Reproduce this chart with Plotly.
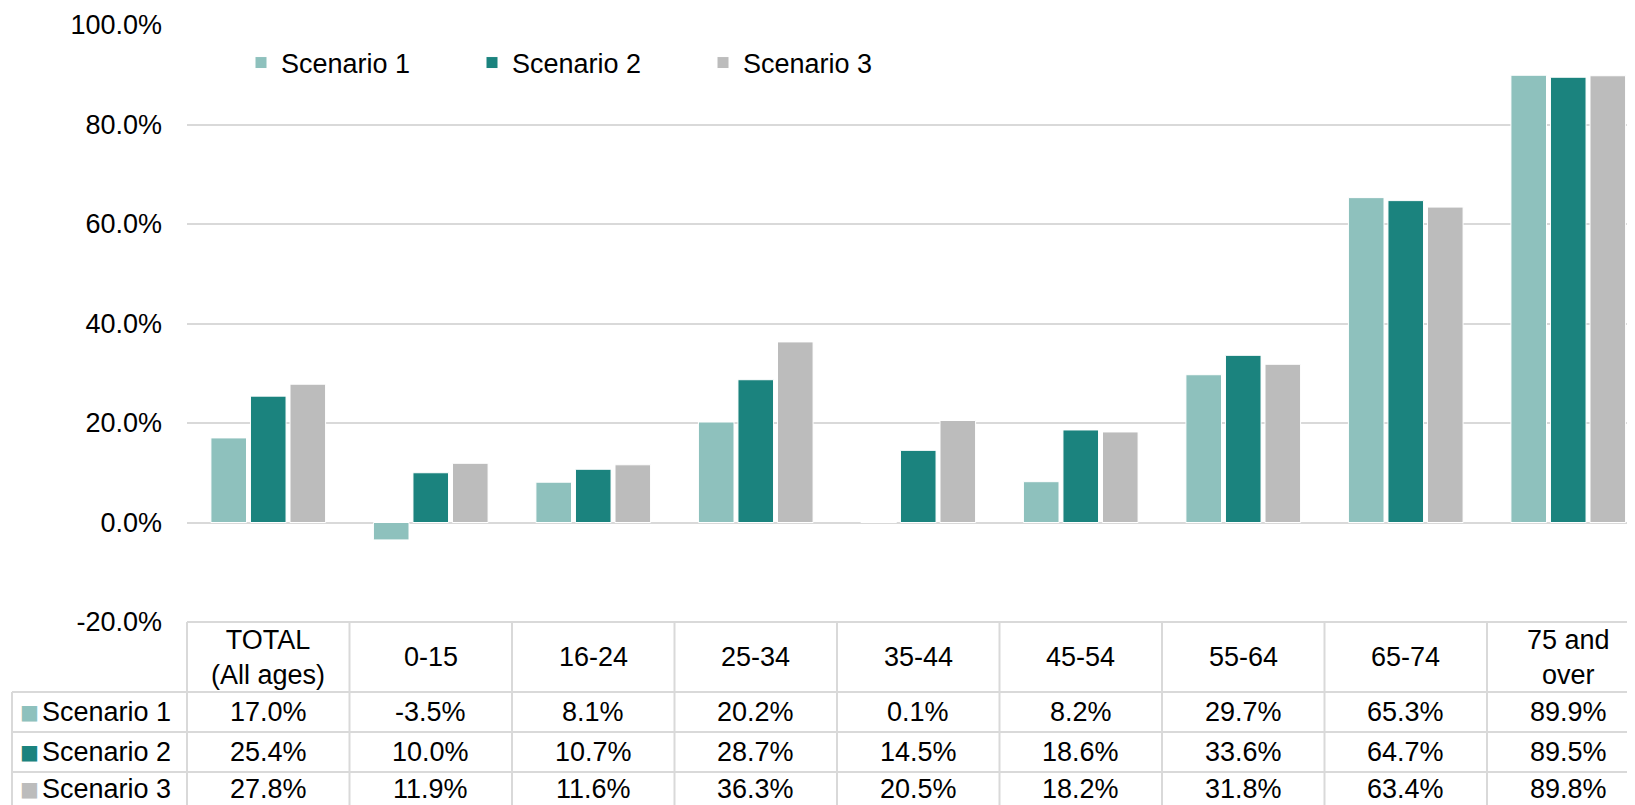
import plotly.graph_objects as go

# datos
categorias = ["TOTAL<br>(All ages)", "0-15", "16-24", "25-34", "35-44",
              "45-54", "55-64", "65-74", "75 and<br>over"]
escenario_1 = [17.0, -3.5, 8.1, 20.2, 0.1, 8.2, 29.7, 65.3, 89.9]
escenario_2 = [25.4, 10.0, 10.7, 28.7, 14.5, 18.6, 33.6, 64.7, 89.5]
escenario_3 = [27.8, 11.9, 11.6, 36.3, 20.5, 18.2, 31.8, 63.4, 89.8]
nombres = ["Scenario 1", "Scenario 2", "Scenario 3"]
colores = ["#8EC1BD", "#1B837E", "#BCBCBC"]
ticks_y = [-20, 0, 20, 40, 60, 80, 100]
textos_y = ["-20.0%", "0.0%", "20.0%", "40.0%", "60.0%", "80.0%", "100.0%"]

# la pagina deja 8px de margen en el body
OFF = 8
W, H = 1635 - OFF, 805 - OFF
fuente = "Liberation Sans, Arial, sans-serif"
gris = "#D9D9D9"
tam = 27

# zona del grafico en pixeles de la pagina
x0, x1 = 187, 1635
ancho_cat = 162.5           # la ultima columna queda cortada por el borde derecho
y_top, y_bot = 25, 622
filas = [622, 692, 732, 772, 805]  # bordes de la tabla
x_tabla = 12

n = len(categorias)

def py(p):
    return (H - (p - OFF)) / H

def px(p):
    return (p - OFF) / W

rango_x = [-0.5, -0.5 + (x1 - x0) / ancho_cat]
dom_x = [px(x0), 1]
dom_y = [py(y_bot), py(y_top)]

fig = go.Figure()
for nombre, valores, color in zip(nombres, [escenario_1, escenario_2, escenario_3], colores):
    fig.add_trace(go.Bar(x=categorias, y=valores, name=nombre,
                         marker=dict(color=color, line=dict(color="white", width=1))))

anotaciones = []
formas = []

# cabecera de la tabla
for c in categorias:
    anotaciones.append(dict(x=c, xref="x", y=py((filas[0] + filas[1]) / 2), yref="paper",
                            text=c, showarrow=False, font=dict(size=tam, family=fuente, color="#000"),
                            xanchor="center", yanchor="middle"))

# filas de la tabla
for k, (nombre, valores, color) in enumerate(zip(nombres, [escenario_1, escenario_2, escenario_3], colores)):
    yc = py((filas[k + 1] + min(filas[k + 2], 811)) / 2)
    anotaciones.append(dict(x=px(18), xref="paper", y=yc, yref="paper", text="■",
                            showarrow=False, font=dict(size=20, family="DejaVu Sans", color=color),
                            xanchor="left", yanchor="middle"))
    anotaciones.append(dict(x=px(40), xref="paper", y=yc, yref="paper", text=nombre,
                            showarrow=False, font=dict(size=tam, family=fuente, color="#000"),
                            xanchor="left", yanchor="middle"))
    for c, v in zip(categorias, valores):
        anotaciones.append(dict(x=c, xref="x", y=yc, yref="paper", text=f"{v:.1f}%",
                                showarrow=False, font=dict(size=tam, family=fuente, color="#000"),
                                xanchor="center", yanchor="middle"))

# lineas de la tabla
for b in range(n + 1):
    xb = px(x0 + b * ancho_cat)
    if xb > 1:
        continue
    formas.append(dict(type="line", xref="paper", yref="paper", x0=xb, x1=xb,
                       y0=py(filas[0]), y1=0, line=dict(color=gris, width=2)))
formas.append(dict(type="line", xref="paper", yref="paper", x0=px(x_tabla), x1=px(x_tabla),
                   y0=py(filas[1]), y1=0, line=dict(color=gris, width=2)))
for i, f in enumerate(filas[:-1]):
    xi = dom_x[0] if i == 0 else px(x_tabla)
    formas.append(dict(type="line", xref="paper", yref="paper", x0=xi, x1=1,
                       y0=py(f), y1=py(f), line=dict(color=gris, width=2)))

fig.update_layout(
    width=W, height=H,
    margin=dict(l=0, r=0, t=0, b=0, autoexpand=False),
    paper_bgcolor="white", plot_bgcolor="white",
    font=dict(family=fuente, size=tam, color="#000"),
    barmode="group", bargap=0.27, bargroupgap=0.1,
    xaxis=dict(domain=dom_x, range=rango_x, showticklabels=False, showgrid=False, zeroline=False,
               showline=False, ticks="", automargin=False),
    yaxis=dict(domain=dom_y, range=[-20, 100], tickvals=ticks_y, ticktext=textos_y,
               showgrid=True, gridcolor=gris, gridwidth=2, zeroline=True, zerolinecolor=gris,
               zerolinewidth=2, showline=False, ticks="", ticklabelstandoff=24, automargin=False,
               tickfont=dict(size=tam, family=fuente, color="#000")),
    legend=dict(orientation="h", x=px(241), xanchor="left", y=py(63), yanchor="middle",
                entrywidth=186, entrywidthmode="pixels", bgcolor="rgba(0,0,0,0)",
                font=dict(size=tam, family=fuente, color="#000"), traceorder="normal"),
    annotations=anotaciones,
    shapes=formas,
)

fig.write_html("out.html")
